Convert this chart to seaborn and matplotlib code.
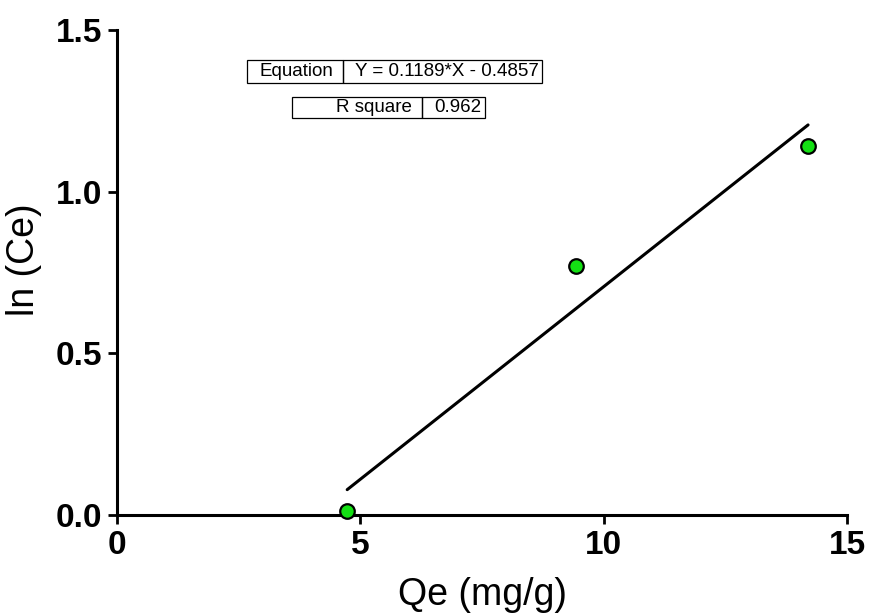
import seaborn as sns
import matplotlib.pyplot as plt
from matplotlib.patches import Rectangle

qe = [4.73, 9.43, 14.2]
ln_ce = [0.012, 0.770, 1.141]
x_ticks = [0, 5, 10, 15]
y_ticks = [0.0, 0.5, 1.0, 1.5]
y_tick_labels = ['0.0', '0.5', '1.0', '1.5']
eq_row = ['Equation', 'Y = 0.1189*X - 0.4857']
r2_row = ['R square', '0.962']

W, H = 869, 616


def px_box(fig, x0, y0, x1, y1):
    # pixel coords (top-left origin) -> figure fraction rectangle
    r = Rectangle((x0 / W, 1 - y1 / H), (x1 - x0) / W, (y1 - y0) / H,
                  transform=fig.transFigure, fill=False, ec='black', lw=0.9)
    fig.add_artist(r)


def draw_row(fig, row, x0, xm, x1, y0, y1):
    px_box(fig, x0, y0, xm, y1)
    px_box(fig, xm, y0, x1, y1)
    yc = 1 - (y0 + y1) / 2 / H
    fig.text((xm - 10) / W, yc, row[0], ha='right', va='center', fontsize=13.5, color='black')
    fig.text((xm + 12) / W, yc, row[1], ha='left', va='center', fontsize=13.5, color='black')


if __name__ == '__main__':
    sns.set_style('ticks')
    plt.rcParams['font.family'] = ['Liberation Sans', 'DejaVu Sans']
    plt.rcParams['text.color'] = 'black'
    plt.rcParams['axes.labelcolor'] = 'black'
    plt.rcParams['xtick.color'] = 'black'
    plt.rcParams['ytick.color'] = 'black'

    fig = plt.figure(figsize=(W / 100, H / 100), dpi=100)
    ax = fig.add_axes([117 / W, 1 - 515 / H, (847 - 117) / W, (515 - 30) / H])

    sns.regplot(x=qe, y=ln_ce, ax=ax, ci=None, truncate=True,
                scatter_kws=dict(s=110, color='#14E014', edgecolors='black',
                                 linewidths=1.6, clip_on=False, zorder=5, alpha=1),
                line_kws=dict(color='black', lw=2.2))

    ax.set_xlim(0, 15)
    ax.set_ylim(0, 1.5)
    ax.set_xticks(x_ticks)
    ax.set_yticks(y_ticks)
    ax.set_yticklabels(y_tick_labels)
    ax.tick_params(direction='out', length=6.5, width=2, labelsize=24, pad=4,
                   color='black', labelcolor='black')
    for lab in ax.get_xticklabels() + ax.get_yticklabels():
        lab.set_fontweight('bold')
    for s in ['left', 'bottom']:
        ax.spines[s].set_linewidth(2.2)
        ax.spines[s].set_color('black')
    sns.despine(ax=ax)

    ax.set_xlabel('Qe (mg/g)', fontsize=27, labelpad=12)
    ax.set_ylabel('ln (Ce)', fontsize=27)
    ax.yaxis.set_label_coords(-0.103, 0.526)

    draw_row(fig, eq_row, 247, 343, 542, 60, 83)
    draw_row(fig, r2_row, 292, 422, 485, 97, 118)

    fig.savefig('out.png', dpi=100)
